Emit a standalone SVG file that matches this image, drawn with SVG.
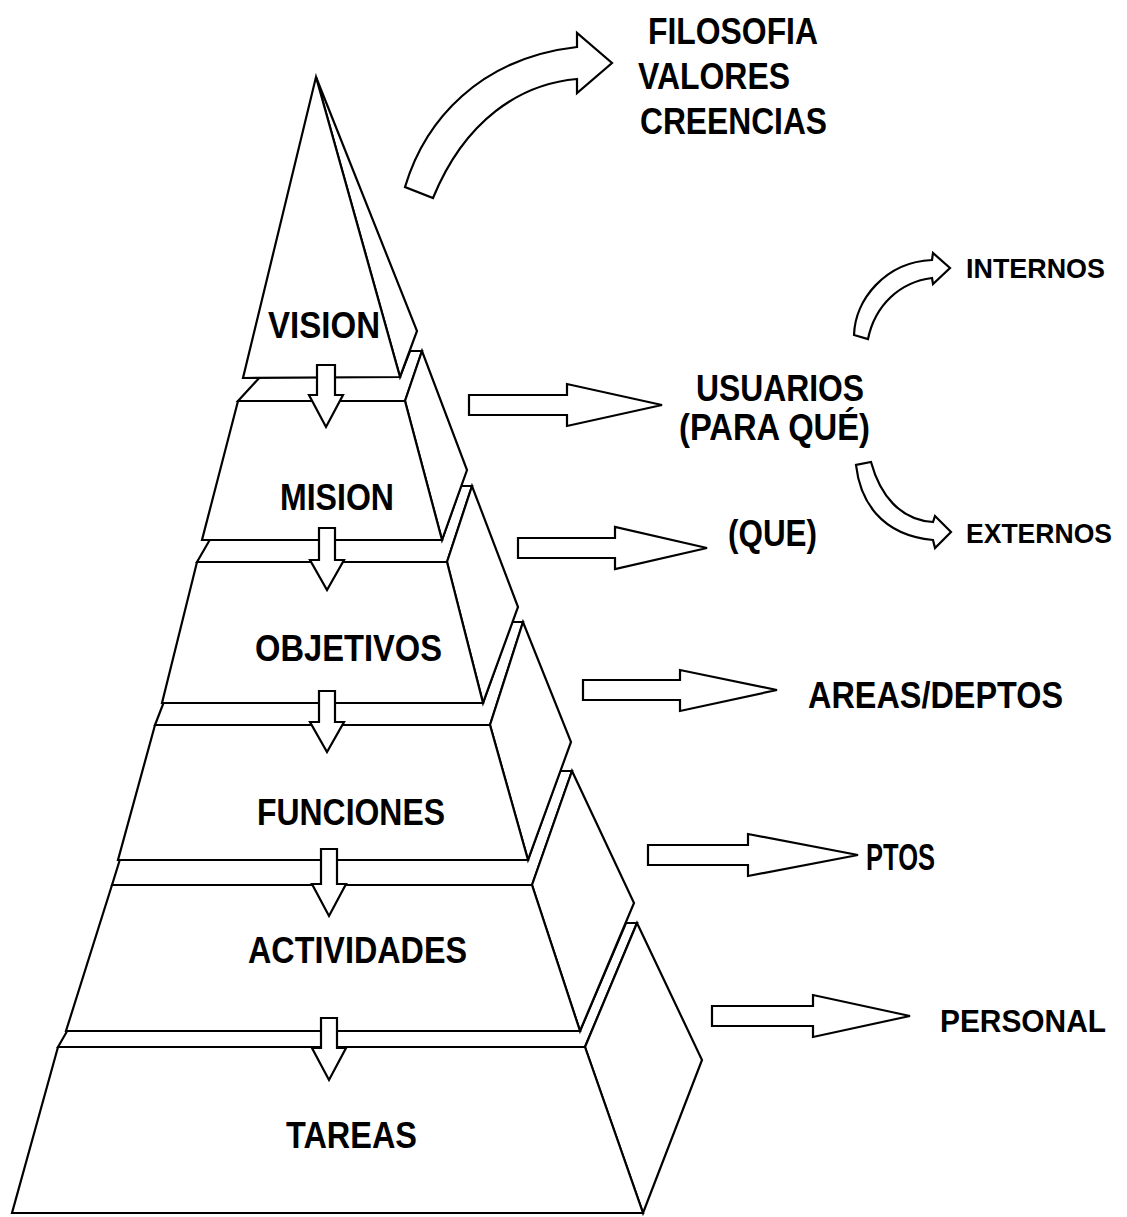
<svg xmlns="http://www.w3.org/2000/svg" width="1127" height="1217" viewBox="0 0 1127 1217">
<style>
.face{fill:#fff;stroke:#000;stroke-width:2.2;stroke-linejoin:miter}
.arw{fill:#fff;stroke:#000;stroke-width:2.2;stroke-linejoin:miter}
.lbl{font-family:"Liberation Sans",Arial,sans-serif;font-weight:bold;fill:#000;font-size:37px}
.sm{font-size:28px}
</style>
<rect x="0" y="0" width="1127" height="1217" fill="#fff"/>
<g id="layer-tareas">
<polygon class="face" points="58,1047 70,1026 580,1031 626,923 637,923 585,1047"/>
<polygon class="face" points="585,1047 637,923 702,1060 643,1213"/>
<polygon class="face" points="58,1047 585,1047 643,1213 12,1213"/>
<text class="lbl" x="286" y="1148" textLength="131" lengthAdjust="spacingAndGlyphs">TAREAS</text>
</g>
<g id="layer-actividades">
<polygon class="face" points="112,885 121,856 528,860 560,771 572,771 532,885"/>
<polygon class="face" points="532,885 572,771 634,903 580,1031"/>
<polygon class="face" points="112,885 532,885 580,1031 66,1031"/>
<text class="lbl" x="248" y="963" textLength="219" lengthAdjust="spacingAndGlyphs">ACTIVIDADES</text>
</g>
<g id="layer-funciones">
<polygon class="face" points="155,725 165,699 483,703 512,622 523,622 490,725"/>
<polygon class="face" points="490,725 523,622 571,742 528,860"/>
<polygon class="face" points="155,725 490,725 528,860 118,860"/>
<text class="lbl" x="257" y="825" textLength="188" lengthAdjust="spacingAndGlyphs">FUNCIONES</text>
</g>
<g id="layer-objetivos">
<polygon class="face" points="197,562 212,536 442,540 461,486 472,486 447,562"/>
<polygon class="face" points="447,562 472,486 518,607 483,703"/>
<polygon class="face" points="197,562 447,562 483,703 162,703"/>
<text class="lbl" x="255" y="661" textLength="187" lengthAdjust="spacingAndGlyphs">OBJETIVOS</text>
</g>
<g id="layer-mision">
<polygon class="face" points="238,401 261,376 400,377 410,351 422,351 405,401"/>
<polygon class="face" points="405,401 422,351 467,470 442,540"/>
<polygon class="face" points="238,401 405,401 442,540 202,540"/>
<text class="lbl" x="280" y="510" textLength="114" lengthAdjust="spacingAndGlyphs">MISION</text>
</g>
<g id="layer-vision">
<polygon class="face" points="316,77 417,331 400,377"/>
<polygon class="face" points="316,77 400,377 243,378"/>
<text class="lbl" x="268" y="338" textLength="112" lengthAdjust="spacingAndGlyphs">VISION</text>
</g>
<g id="label-filosofia">
<text class="lbl" x="648" y="44" textLength="170" lengthAdjust="spacingAndGlyphs">FILOSOFIA</text>
<text class="lbl" x="638" y="89" textLength="152" lengthAdjust="spacingAndGlyphs">VALORES</text>
<text class="lbl" x="640" y="134" textLength="187" lengthAdjust="spacingAndGlyphs">CREENCIAS</text>
</g>
<g id="label-usuarios">
<text class="lbl" x="696" y="401" textLength="168" lengthAdjust="spacingAndGlyphs">USUARIOS</text>
<text class="lbl" x="679" y="440" textLength="191" lengthAdjust="spacingAndGlyphs">(PARA QUÉ)</text>
</g>
<g id="label-internos"><text class="lbl sm" x="966" y="278" textLength="139" lengthAdjust="spacingAndGlyphs">INTERNOS</text></g>
<g id="label-externos"><text class="lbl sm" x="966" y="543" textLength="146" lengthAdjust="spacingAndGlyphs">EXTERNOS</text></g>
<g id="label-que"><text class="lbl" x="728" y="546" textLength="89" lengthAdjust="spacingAndGlyphs">(QUE)</text></g>
<g id="label-areas"><text class="lbl" x="808" y="708" textLength="255" lengthAdjust="spacingAndGlyphs">AREAS/DEPTOS</text></g>
<g id="label-ptos"><text class="lbl" x="866" y="870" textLength="69" lengthAdjust="spacingAndGlyphs">PTOS</text></g>
<g id="label-personal"><text class="lbl" x="940" y="1032" font-size="32" style="font-size:32px" textLength="166" lengthAdjust="spacingAndGlyphs">PERSONAL</text></g>
<g id="connectors">
<polygon class="arw" points="317,365 335,365 335,395 343,395 326,427 309,395 317,395"/>
<polygon class="arw" points="319,528 335,528 335,560 344,560 327,590 310,560 319,560"/>
<polygon class="arw" points="319,691 335,691 335,722 344,722 327,752 310,722 319,722"/>
<polygon class="arw" points="321,849 337,849 337,884 346,884 329,916 312,884 321,884"/>
<polygon class="arw" points="321,1018 337,1018 337,1048 346,1048 329,1080 312,1048 321,1048"/>
<polygon class="arw" points="469,395 567,395 567,384 662,405 567,426 567,415 469,415"/>
<polygon class="arw" points="518,538 615,538 615,527 707,548 615,569 615,558 518,558"/>
<polygon class="arw" points="583,680 680,680 680,670 777,690 680,711 680,700 583,700"/>
<polygon class="arw" points="648,845 748,845 748,834 858,855 748,876 748,865 648,865"/>
<polygon class="arw" points="712,1006 813,1006 813,995 910,1016 813,1037 813,1026 712,1026"/>
<path class="arw" d="M405,187 C425,120 480,58 577,47 L577,33 L612,63 L577,93 L577,79 C520,84 465,120 433,198 Z"/>
<path class="arw" d="M854,335 C855,300 885,262 932,260 L933,253 L950,268 L933,284 L932,278 C900,282 875,305 868,339 Z"/>
<path class="arw" d="M871,462 C880,495 900,520 933,522 L935,516 L951,532 L935,548 L933,540 C880,535 860,500 856,465 Z"/>
</g>
</svg>
